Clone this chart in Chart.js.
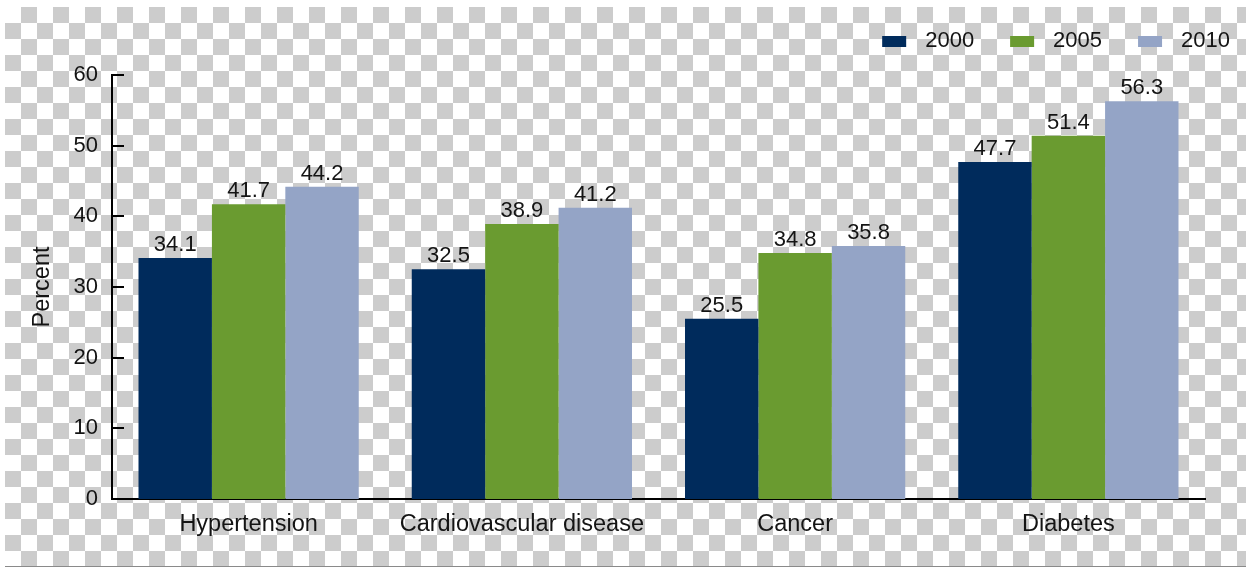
<!DOCTYPE html>
<html><head><meta charset="utf-8">
<script src="https://cdn.jsdelivr.net/npm/chart.js@4.4.1/dist/chart.umd.min.js"></script>
<style>
html,body{margin:0;padding:0;background:#fff;width:1246px;height:567px;overflow:hidden}
#checker{position:absolute;left:5px;top:7px;width:1241px;height:559px;background-color:#fff;background-image:conic-gradient(#cccccc 25%, #ffffff 0 50%, #cccccc 0 75%, #ffffff 0);background-size:32px 32px;border-bottom:1px solid #8a8a8a}
#c{position:absolute;left:0;top:0}
</style></head><body>
<div id="checker"></div>
<canvas id="c" width="1246" height="567"></canvas>
<script>
const categories = ['Hypertension', 'Cardiovascular disease', 'Cancer', 'Diabetes'];
const seriesNames = ['2000', '2005', '2010'];
const values2000 = [34.1, 32.5, 25.5, 47.7];
const values2005 = [41.7, 38.9, 34.8, 51.4];
const values2010 = [44.2, 41.2, 35.8, 56.3];
const yTicks = [0, 10, 20, 30, 40, 50, 60];
const yTitle = 'Percent';
const colors = ['#002b5c', '#6a9b30', '#94a4c6'];

const FONT = '"Liberation Sans", Arial, Helvetica, sans-serif';
const TEXT = '#141414';
Chart.defaults.font.family = FONT;
Chart.defaults.font.size = 22;
Chart.defaults.color = TEXT;

const innerTicks = {
  id: 'innerTicks',
  afterDraw(chart) {
    const y = chart.scales.y, ctx = chart.ctx, left = chart.chartArea.left;
    ctx.save();
    ctx.strokeStyle = '#000';
    ctx.lineWidth = 2;
    y.ticks.forEach(t => {
      if (t.value === 0) return;
      const py = Math.round(y.getPixelForValue(t.value));
      ctx.beginPath();
      ctx.moveTo(left - 1, py);
      ctx.lineTo(left + 12, py);
      ctx.stroke();
    });
    ctx.restore();
  }
};

const barLabels = {
  id: 'barLabels',
  afterDatasetsDraw(chart) {
    const ctx = chart.ctx;
    ctx.save();
    ctx.font = '22px ' + FONT;
    ctx.fillStyle = TEXT;
    ctx.textAlign = 'center';
    ctx.textBaseline = 'alphabetic';
    chart.data.datasets.forEach((ds, di) => {
      chart.getDatasetMeta(di).data.forEach((bar, i) => {
        ctx.fillText(ds.data[i].toFixed(1), bar.x, bar.y - 7);
      });
    });
    ctx.restore();
  }
};

const customLegend = {
  id: 'customLegend',
  afterDraw(chart) {
    const ctx = chart.ctx;
    ctx.save();
    ctx.font = '22px ' + FONT;
    ctx.textBaseline = 'alphabetic';
    ctx.textAlign = 'left';
    const boxW = 24, boxH = 11, gap = 19, spacing = 36, base = 47;
    const items = chart.data.datasets.map(d => ({ text: d.label, color: d.backgroundColor, w: ctx.measureText(d.label).width }));
    const total = items.reduce((s, it) => s + boxW + gap + it.w, 0) + spacing * (items.length - 1);
    let x = chart.chartArea.right + 25 - total;
    items.forEach(it => {
      ctx.fillStyle = it.color;
      ctx.fillRect(x, base - boxH, boxW, boxH);
      ctx.fillStyle = TEXT;
      ctx.fillText(it.text, x + boxW + gap, base);
      x += boxW + gap + it.w + spacing;
    });
    ctx.restore();
  }
};

new Chart(document.getElementById('c'), {
  type: 'bar',
  data: {
    labels: categories,
    datasets: [
      { label: seriesNames[0], data: values2000, backgroundColor: colors[0] },
      { label: seriesNames[1], data: values2005, backgroundColor: colors[1] },
      { label: seriesNames[2], data: values2010, backgroundColor: colors[2] }
    ]
  },
  options: {
    responsive: false,
    animation: false,
    devicePixelRatio: 1,
    layout: { padding: { top: 75, right: 41, left: 0, bottom: 0 } },
    datasets: { bar: { barPercentage: 1, categoryPercentage: 0.806, borderWidth: 0 } },
    plugins: { legend: { display: false }, tooltip: { enabled: false } },
    scales: {
      x: {
        grid: { display: false, drawTicks: false },
        border: { display: true, color: '#000', width: 2 },
        ticks: { padding: 11, color: TEXT, font: { size: 23.5 } },
        afterFit(s) { s.height = 68; }
      },
      y: {
        min: 0, max: 60,
        afterBuildTicks(s) { s.ticks = yTicks.map(v => ({ value: v })); },
        grid: { display: false, drawTicks: false },
        border: { display: true, color: '#000', width: 2 },
        ticks: { padding: 14, color: TEXT, font: { size: 22 } },
        title: { display: true, text: yTitle, color: TEXT, font: { size: 23.5 }, padding: { top: 28, bottom: 0 } },
        afterFit(s) { s.width = 112; }
      }
    }
  },
  plugins: [innerTicks, barLabels, customLegend]
});
</script>
</body></html>
